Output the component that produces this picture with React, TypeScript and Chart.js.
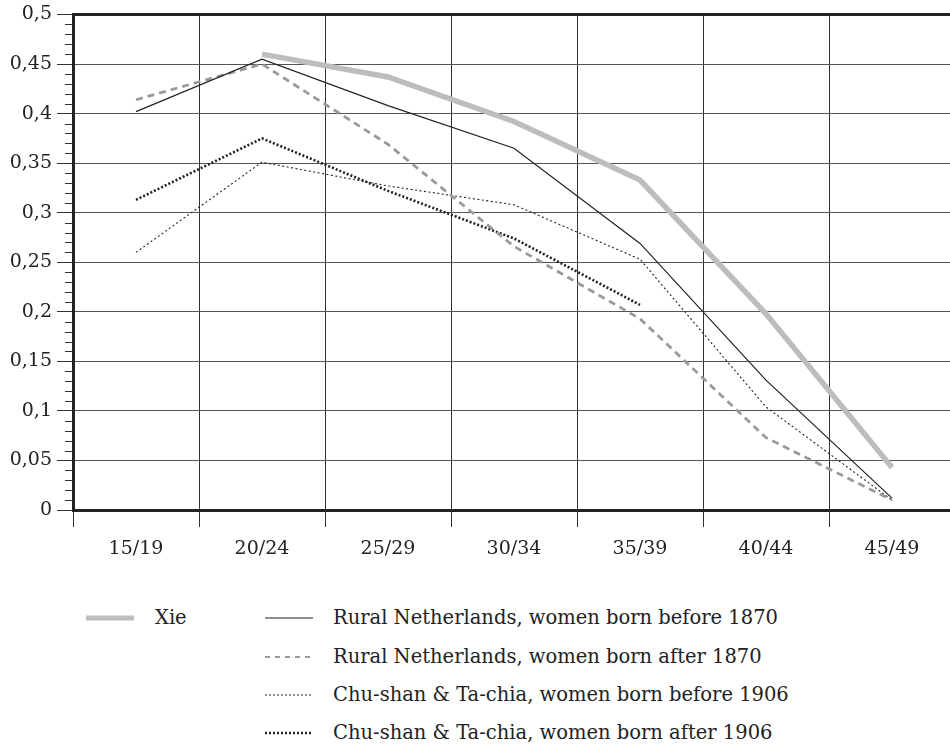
import React, { useEffect, useRef } from "react";
import { Chart, registerables } from "chart.js";

Chart.register(...registerables);

const categories = ["15/19", "20/24", "25/29", "30/34", "35/39", "40/44", "45/49"];
const xie = [null, 0.46, 0.437, 0.392, 0.333, 0.198, 0.043];
const ruralBefore1870 = [0.402, 0.455, 0.408, 0.365, 0.269, 0.131, 0.012];
const ruralAfter1870 = [0.414, 0.45, 0.369, 0.266, 0.193, 0.073, 0.01];
const chuBefore1906 = [0.26, 0.351, 0.327, 0.308, 0.253, 0.104, 0.01];
const chuAfter1906 = [0.313, 0.375, 0.322, 0.274, 0.207, null, null];
const yTickLabels = ["0", "0,05", "0,1", "0,15", "0,2", "0,25", "0,3", "0,35", "0,4", "0,45", "0,5"];

const labelXie = "Xie";
const labelRB = "Rural Netherlands, women born before 1870";
const labelRA = "Rural Netherlands, women born after 1870";
const labelCB = "Chu-shan & Ta-chia, women born before 1906";
const labelCA = "Chu-shan & Ta-chia, women born after 1906";

const FONT = "'DejaVu Serif', serif";
const INK = "#222";

const frame = {
  id: "frame",
  afterDraw(chart: any) {
    const { ctx, chartArea, scales } = chart;
    const y = scales.y;
    ctx.save();
    ctx.strokeStyle = "#333";
    ctx.lineWidth = 1;
    for (let i = 1; i < 50; i++) {
      if (i % 5 === 0) continue;
      const py = Math.round(y.getPixelForValue(i / 100)) + 0.5;
      ctx.beginPath();
      ctx.moveTo(chartArea.left - 8, py);
      ctx.lineTo(chartArea.left, py);
      ctx.stroke();
    }
    ctx.strokeStyle = INK;
    ctx.lineWidth = 3;
    ctx.beginPath();
    ctx.moveTo(chartArea.left - 1, chartArea.top);
    ctx.lineTo(chartArea.right + 10, chartArea.top);
    ctx.stroke();
    ctx.restore();
  },
};

function Sample({ color, width, dash }: { color: string; width: number; dash?: string }) {
  return (
    <svg width={48} height={10} style={{ display: "block" }}>
      <line x1={0} y1={5} x2={48} y2={5} stroke={color} strokeWidth={width} strokeDasharray={dash} />
    </svg>
  );
}

export default function App() {
  const ref = useRef<HTMLCanvasElement>(null);
  useEffect(() => {
    if (!ref.current) return;
    let chart: any = null;
    let cancelled = false;
    const make = () => {
      if (cancelled || !ref.current) return;
      chart = new Chart(ref.current, {
        type: "line",
        data: {
          labels: categories,
          datasets: [
            { label: labelXie, data: xie, borderColor: "#bdbdbd", borderWidth: 5.5, pointRadius: 0, tension: 0 },
            { label: labelRB, data: ruralBefore1870, borderColor: INK, borderWidth: 1.2, pointRadius: 0 },
            { label: labelRA, data: ruralAfter1870, borderColor: "#9a9a9a", borderWidth: 2.8, borderDash: [7, 5], pointRadius: 0 },
            { label: labelCB, data: chuBefore1906, borderColor: INK, borderWidth: 1.1, borderDash: [2, 2.5], pointRadius: 0 },
            { label: labelCA, data: chuAfter1906, borderColor: INK, borderWidth: 2.6, borderDash: [2, 2], pointRadius: 0 },
          ],
        },
        options: {
          animation: false,
          responsive: false,
          devicePixelRatio: 1,
          layout: { padding: { top: 7, right: 5, left: 0, bottom: 0 } },
          plugins: { legend: { display: false }, tooltip: { enabled: false } },
          scales: {
            x: {
              offset: true,
              grid: { offset: true, color: "#333", lineWidth: 1, tickLength: 17, tickColor: "#333" },
              border: { color: INK, width: 3 },
              ticks: { font: { family: FONT, size: 19 }, color: INK, padding: 11, maxRotation: 0 },
              afterFit: (s: any) => { s.height = 70; },
            },
            y: {
              min: 0,
              max: 0.5,
              grid: { color: "#555", lineWidth: 1, tickLength: 16, tickColor: "#333" },
              border: { color: INK, width: 3 },
              ticks: {
                stepSize: 0.05,
                font: { family: FONT, size: 19, lineHeight: 1 },
                color: INK,
                padding: 5,
                callback: (_v: any, i: number) => yTickLabels[i],
              },
              afterFit: (s: any) => { s.width = 73; },
            },
          },
        },
        plugins: [frame],
      });
    };
    const fonts: any = (document as any).fonts;
    if (fonts && fonts.load) {
      fonts.load("19px 'DejaVu Serif'").then(make, make);
    } else {
      make();
    }
    return () => {
      cancelled = true;
      if (chart) chart.destroy();
    };
  }, []);

  const textStyle: React.CSSProperties = {
    position: "absolute",
    fontFamily: FONT,
    fontSize: 19.5,
    color: INK,
    whiteSpace: "nowrap",
    lineHeight: "26px",
  };
  const rows = [
    { y: 618, label: labelRB, s: <Sample color={INK} width={1.2} /> },
    { y: 657, label: labelRA, s: <Sample color="#9a9a9a" width={2} dash="5 5" /> },
    { y: 695, label: labelCB, s: <Sample color={INK} width={1} dash="2 2" /> },
    { y: 733, label: labelCA, s: <Sample color={INK} width={2.5} dash="2 2" /> },
  ];

  return (
    <div style={{ position: "fixed", left: 0, top: 0, width: 950, height: 748, overflow: "hidden", background: "#fff" }}>
      <canvas ref={ref} width={960} height={580} style={{ position: "absolute", left: 0, top: 0 }} />
      <div style={{ position: "absolute", left: 86, top: 613 }}>
        <Sample color="#bdbdbd" width={5} />
      </div>
      <div style={{ ...textStyle, left: 155, top: 605 }}>{labelXie}</div>
      {rows.map((r) => (
        <React.Fragment key={r.label}>
          <div style={{ position: "absolute", left: 265, top: r.y - 5 }}>{r.s}</div>
          <div style={{ ...textStyle, left: 333, top: r.y - 13 }}>{r.label}</div>
        </React.Fragment>
      ))}
    </div>
  );
}
